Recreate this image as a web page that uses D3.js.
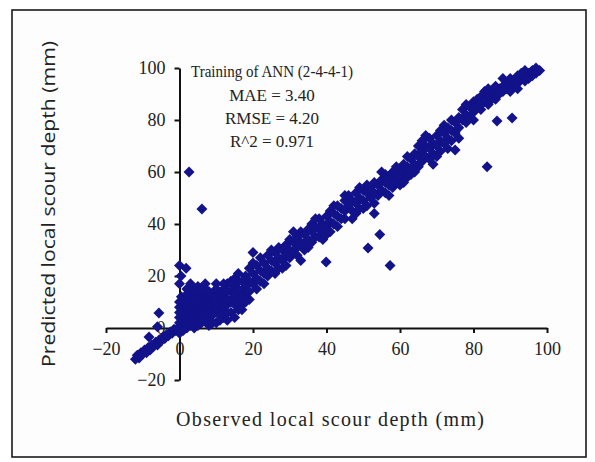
<!DOCTYPE html>
<html>
<head>
<meta charset="utf-8">
<script src="https://cdn.jsdelivr.net/npm/d3@7"></script>
<style>
  html, body { margin: 0; padding: 0; background: #ffffff; }
  svg { display: block; }
</style>
</head>
<body>
<svg id="chart" width="595" height="462"></svg>
<script>
// ---------------- DATA ----------------
const xTicks = [-20, 0, 20, 40, 60, 80, 100];
const yTicks = [-20, 0, 20, 40, 60, 80, 100];
const statLines = ["Training of ANN (2-4-4-1)", "MAE = 3.40", "RMSE = 4.20", "R^2 = 0.971"];
const xLabel = "Observed local scour depth (mm)";
const yLabel = "Predicted local scour depth (mm)";

// points below zero
const negPoints = [
  [-12,-12],[-11.5,-10.5],[-11,-11.5],[-10.5,-9.5],[-10,-10],[-9.5,-8.5],[-9,-9.5],
  [-8.5,-7.5],[-8,-8.5],[-8.3,-3.5],[-7.5,-6.5],[-7,-7],[-6.5,-5.5],[-6,-6.5],
  [-5.5,-4.5],[-5,-5],[-4.5,-3.5],[-4,-4],[-3.5,-2.5],[-3,-3],[-2.5,-1.5],[-2,-2],
  [-1.5,-0.5],[-1,-1],[-0.5,0],[-5.6,5.8],[-6,0.5]
];
// dense cluster near the origin
const originPoints = [
  [0,0],[0,2],[0,4],[0,6],[0,8],[0,10],[0,-2],[0.5,12],[1,1],[1,3],[1,5],[1,7],[1,9],
  [1,11],[1,-1],[2,0],[2,2],[2,4],[2,6],[2,8],[2,10],[2,13],[3,1],[3,3],[3,5],[3,7],
  [3,9],[3,11],[3,15],[4,0],[4,2],[4,4],[4,6],[4,8],[4,10],[4,12],[5,1],[5,3],[5,5],
  [5,7],[5,9],[5,11],[5,16],[6,2],[6,4],[6,6],[6,8],[6,10],[6,13],[7,3],[7,5],[7,7],
  [7,9],[7,11],[7,15],[8,1],[8,4],[8,6],[8,8],[8,10],[8,12],[8,14],[9,5],[9,7],[9,9],
  [9,11],[9,13],[10,2],[10,6],[10,8],[10,10],[10,12],[10,15],[11,7],[11,9],[11,11],
  [11,13],[12,4],[12,8],[12,10],[12,12],[12,15],[13,9],[13,11],[13,14],[13,17],
  [14,6],[14,14],[16,7],[14,10],[15,16],[16,11],[17,14],[15,4],[13,6],[11,3],[9,2],
  [6,15],[4,14],[2,15],[3,17],[7,17],[12,17],[10,17],[14,18],[16,18],[17,9],[18,10],
  [18,13],[19,11],[11,5],[13,3],
  [0,24],[1.8,23],[0,17],[0.4,20]
];
// main band along the diagonal
const bandPoints = [
  [14,17],[14,11],[15,19],[15,13],[15,9],[16,15],[16,21],[17,18],[17,12],[17,7],
  [18,20],[18,16],[19,23],[19,18],[19,14],[20,21],[20,25],[20,17],[21,19],[21,24],
  [22,22],[22,27],[22,18],[23,25],[23,21],[24,23],[24,28],[24,20],[25,26],[25,22],
  [26,29],[26,25],[26,21],[27,27],[27,31],[28,26],[28,30],[28,23],[29,32],[29,28],
  [30,30],[30,34],[30,27],[31,29],[31,33],[32,35],[32,31],[32,28],[33,33],[33,37],
  [34,32],[34,36],[34,30],[35,38],[35,34],[36,37],[36,40],[36,33],[37,35],[37,39],
  [38,42],[38,38],[38,35],[39,40],[39,37],[40,43],[40,39],[40,36],[41,41],[41,45],
  [42,40],[42,44],[42,47],[43,43],[43,39],[44,46],[44,42],[45,49],[45,45],[45,42],
  [46,47],[46,51],[47,45],[47,49],[48,52],[48,48],[48,44],[49,50],[49,46],[50,53],
  [50,49],[50,46],[51,52],[51,55],[52,50],[52,54],[53,56],[53,52],[53,48],[54,55],
  [54,51],[55,57],[55,53],[56,56],[56,59],[56,52],[57,55],[57,58],[58,57],[58,60],
  [58,54],[59,59],[59,56],[60,58],[60,61],[60,55],[61,60],[61,63],[62,58],[62,62],
  [63,61],[63,65],[63,59],[64,63],[64,67],[65,62],[65,66],[65,70],[66,64],[66,68],
  [66,72],[67,66],[67,70],[68,69],[68,73],[68,65],[69,71],[69,67],[70,74],[70,70],
  [71,72],[71,68],[72,75],[72,71],[72,78],[73,73],[73,77],[74,76],[74,72],[75,79],
  [75,75],[75,68.5],[76,77],[76,81],[77,80],[77,84],[78,82],[78,79],[79,85],[79,81],
  [80,83],[80,87],[81,85],[81,88],[82,84],[82,89],[83,87],[83,91],[84,86],[84,89],
  [85,90],[85,88],[86,91],[86,93],[87,90],[87,92],[88,93],[88,91],[89,94],[89,92],
  [90,93],[90,96],[91,95],[91,93],[92,97],[92,94],[93,96],[93,98],[94,95],[94,97],
  [95,98],[95,96],[96,99],[96,97],[97,98],[97,100],[98,99],
  [20,29],[21,15],[23,17],[25,30],[27,23],[29,24],[31,37],[33,26],[35,31],[37,42],
  [39,34],[41,37],[43,47],[45,51],[47,42],[49,54],[51,47],[53,44],[55,60],[57,51],
  [59,62],[61,56],[62,66],[64,60],[67,74],[69,63],[70,66],[71,76],[73,69],[74,80],
  [76,73],[78,86],[80,80],[82,86],[84,92],[86,88],[88,96],[90,91],[92,92],[94,99]
];
// isolated outliers
const outlierPoints = [
  [2.6,60],[6.1,45.8],[39.9,25.4],[51.3,30.8],[54.5,36],[57.3,24],[83.7,62],
  [86.4,79.6],[90.5,80.8]
];

// ---------------- DRAWING ----------------
const svg = d3.select("#chart");
const markerColor = "#12128a";
const serif = "'Liberation Serif', 'Times New Roman', serif";

// outer frame
svg.append("rect")
  .attr("x", 12).attr("y", 10).attr("width", 574).attr("height", 447)
  .attr("fill", "#fdfdfd").attr("stroke", "#1a1a1a").attr("stroke-width", 1.6);

const x = d3.scaleLinear().domain([-20, 100]).range([106, 547]);
const y = d3.scaleLinear().domain([-20, 100]).range([380, 68]);

// axes crossing at the origin
const xAxis = svg.append("g")
  .attr("transform", `translate(0,${y(0)})`)
  .call(d3.axisBottom(x).tickValues(xTicks).tickSize(5).tickSizeOuter(0).tickPadding(9).tickFormat(d3.format("d")));
const yAxis = svg.append("g")
  .attr("transform", `translate(${x(0)},0)`)
  .call(d3.axisLeft(y).tickValues(yTicks).tickSize(5).tickSizeOuter(0).tickPadding(9).tickFormat(d3.format("d")));

[xAxis, yAxis].forEach(g => {
  g.select(".domain").attr("stroke", "#111").attr("stroke-width", 2);
  g.selectAll(".tick line").attr("stroke", "#111").attr("stroke-width", 2);
  g.selectAll(".tick text")
    .attr("font-family", serif).attr("font-size", 18).attr("fill", "#222");
});

// points
const allPoints = negPoints.concat(originPoints, bandPoints, outlierPoints);
const diamond = d3.symbol().type(d3.symbolSquare).size(60);
svg.append("g").selectAll("path")
  .data(allPoints)
  .join("path")
  .attr("d", diamond)
  .attr("transform", d => `translate(${x(d[0])},${y(d[1])}) rotate(45)`)
  .attr("fill", markerColor);

// statistics annotation
const statY = [77, 101, 124, 147];
const stats = svg.append("g").selectAll("text")
  .data(statLines)
  .join("text")
  .attr("x", 272)
  .attr("y", (d, i) => statY[i])
  .attr("text-anchor", "middle")
  .attr("font-family", serif)
  .attr("font-size", 17)
  .attr("fill", "#222")
  .text(d => d);
stats.filter((d, i) => i === 0)
  .attr("textLength", 162)
  .attr("lengthAdjust", "spacingAndGlyphs");

// axis titles
svg.append("text")
  .attr("x", 330).attr("y", 426)
  .attr("text-anchor", "middle")
  .attr("font-family", serif).attr("font-size", 20).attr("fill", "#222")
  .attr("textLength", 308).attr("lengthAdjust", "spacing")
  .text(xLabel);

svg.append("text")
  .attr("transform", "translate(55,204) rotate(-90)")
  .attr("text-anchor", "middle")
  .attr("font-family", "'Open Sans', 'Liberation Sans', sans-serif").attr("font-size", 18).attr("fill", "#222")
  .attr("textLength", 326).attr("lengthAdjust", "spacingAndGlyphs")
  .text(yLabel);
</script>
</body>
</html>
